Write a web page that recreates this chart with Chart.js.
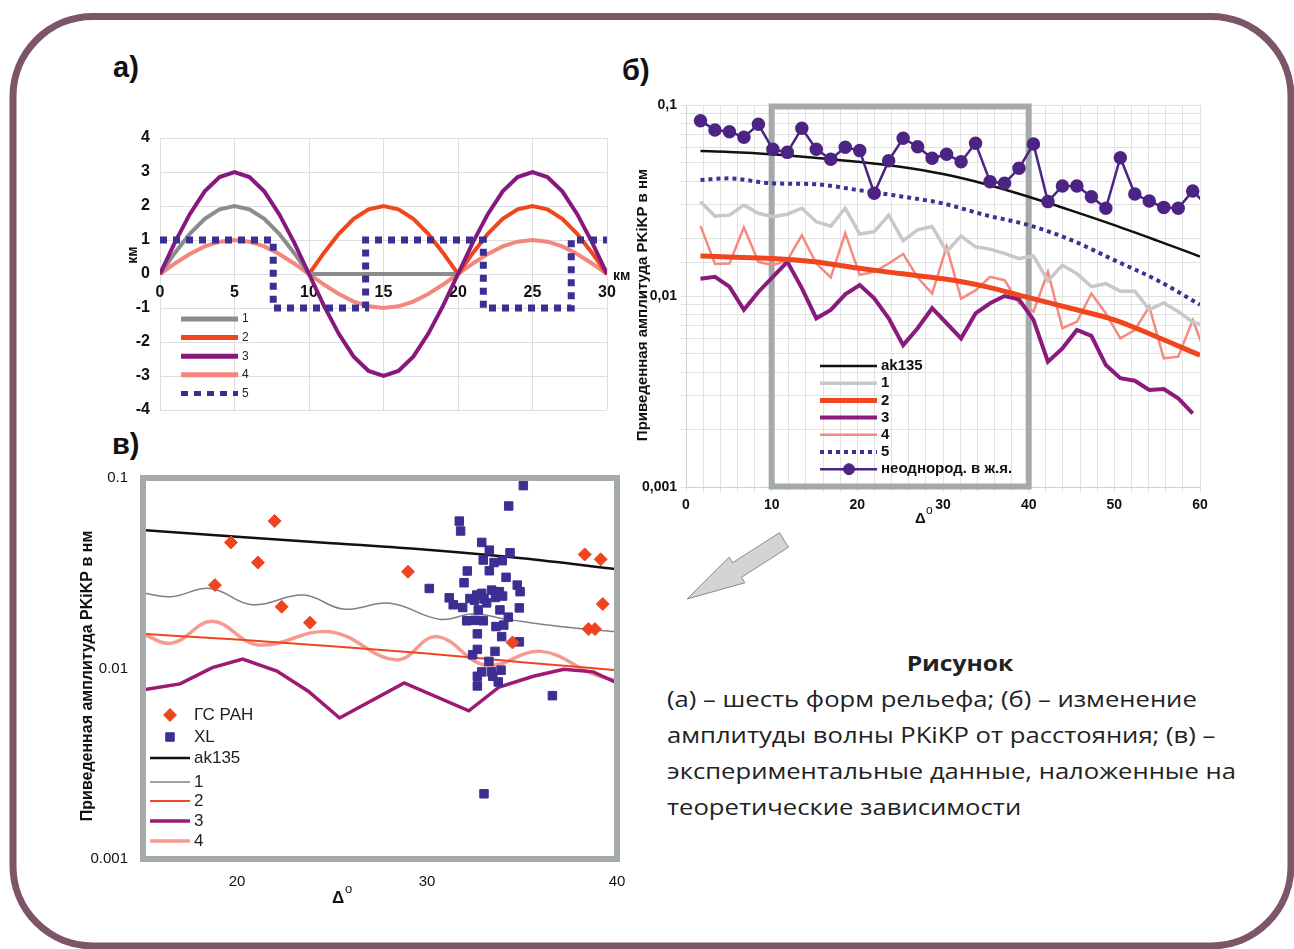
<!DOCTYPE html>
<html lang="ru">
<head>
  <meta charset="UTF-8">
  <title>Рисунок: формы рельефа и амплитуды PKiKP</title>
  <script src="https://cdn.jsdelivr.net/npm/chart.js"></script>
  <style>
    html, body { margin: 0; padding: 0; background: #fff; }
    body {
      width: 1294px; height: 949px; position: relative; overflow: hidden;
      font-family: "Liberation Sans", Arial, sans-serif;
    }
    .frame { position: absolute; left: 0; top: 0; }
    canvas { position: absolute; }
    .lbl { position: absolute; font-weight: bold; font-size: 29px; line-height: 29px; color: #111; }
    .head {
      position: absolute; left: 860px; width: 200px; top: 650px; text-align: center;
      font-family: "Open Sans", sans-serif; font-weight: bold; font-size: 22px; line-height: 24px; color: #222;
      transform: scaleX(1.12); transform-origin: 100px 0;
    }
    .caption {
      position: absolute; left: 667px; top: 680px; white-space: nowrap;
      font-family: "Open Sans", sans-serif; font-size: 22px; line-height: 36px; color: #222;
      transform: scaleX(1.165); transform-origin: 0 0;
    }
  </style>
</head>
<body>
  <svg class="frame" width="1294" height="949">
    <rect x="13" y="16.5" width="1278" height="929.5" rx="80" ry="80" fill="none" stroke="#7d5569" stroke-width="7"/>
    <polygon points="687,599 729.2,557.2 732.6,562.7 779.6,532.7 788.4,547.3 741.4,577.3 744.8,582.8"
             fill="#d4d4d4" stroke="#8a8a8a" stroke-width="1"/>
  </svg>

  <div class="lbl" style="left:113px; top:53px;">а)</div>
  <div class="lbl" style="left:622px; top:56px;">б)</div>
  <div class="lbl" style="left:112px; top:430px;">в)</div>

  <canvas id="chartA" width="530" height="310" style="left:100px; top:120px;"></canvas>
  <canvas id="chartB" width="600" height="450" style="left:630px; top:90px;"></canvas>
  <canvas id="chartV" width="560" height="460" style="left:70px; top:460px;"></canvas>

  <div class="head">Рисунок</div>
  <div class="caption">
    <div>(а) – шесть форм рельефа; (б) – изменение</div>
    <div>амплитуды волны PKiKP от расстояния; (в) –</div>
    <div>экспериментальные данные, наложенные на</div>
    <div>теоретические зависимости</div>
  </div>

  <script>
    // ---------- а) формы рельефа, км ----------
    const kmX = [0,1,2,3,4,5,6,7,8,9,10,11,12,13,14,15,16,17,18,19,20,21,22,23,24,25,26,27,28,29,30];
    const relief1 = [0,0.62,1.18,1.62,1.9,2,1.9,1.62,1.18,0.62,0, 0,0,0,0,0,0,0,0,0,0,
                     null,null,null,null,null,null,null,null,null,null];
    const relief2 = [null,null,null,null,null,null,null,null,null,null,
                     0,0.62,1.18,1.62,1.9,2,1.9,1.62,1.18,0.62,0,0.62,1.18,1.62,1.9,2,1.9,1.62,1.18,0.62,0];
    const relief3 = [0,0.93,1.76,2.43,2.85,3,2.85,2.43,1.76,0.93,0,-0.93,-1.76,-2.43,-2.85,-3,-2.85,-2.43,-1.76,-0.93,
                     0,0.93,1.76,2.43,2.85,3,2.85,2.43,1.76,0.93,0];
    const relief4 = [0,0.31,0.59,0.81,0.95,1,0.95,0.81,0.59,0.31,0,-0.31,-0.59,-0.81,-0.95,-1,-0.95,-0.81,-0.59,-0.31,
                     0,0.31,0.59,0.81,0.95,1,0.95,0.81,0.59,0.31,0];
    const relief5X = [0,7.6,7.6,13.8,13.8,21.7,21.7,27.6,27.6,30];
    const relief5Y = [1,1,-1,-1,1,1,-1,-1,1,1];
    const reliefLabels = ['1','2','3','4','5'];

    // ---------- б) амплитуда PKiKP от расстояния ----------
    const distB = [1.69,3.38,5.07,6.76,8.45,10.14,11.83,13.52,15.21,16.9,18.59,20.28,21.97,23.66,25.35,27.04,
                   28.73,30.42,32.11,33.8,35.49,37.18,38.87,40.56,42.25,43.94,45.63,47.32,49.01,50.7,52.39,54.08,
                   55.77,57.46,59.15,60.84];
    const inhomB = [0.0828,0.074,0.0725,0.0678,0.0792,0.0586,0.0565,0.0755,0.0586,0.052,0.0601,0.0577,0.0345,0.0511,
                    0.067,0.0605,0.0526,0.0552,0.0505,0.063,0.0397,0.0389,0.0466,0.0625,0.0312,0.0377,0.0377,0.0331,
                    0.0288,0.053,0.0342,0.0314,0.0291,0.0288,0.0355,0.0297];
    const model1B = [0.0312,0.0262,0.0265,0.0299,0.0271,0.026,0.0268,0.0288,0.0245,0.0232,0.0288,0.0211,0.0217,0.0265,
                     0.0195,0.0222,0.0231,0.0171,0.0206,0.0181,0.0176,0.0167,0.0157,0.0162,0.012,0.0145,0.0131,0.0112,
                     0.0116,0.0106,0.0106,0.0085,0.0092,0.0083,0.0073,0.0069];
    const model3B = [0.0123,0.0126,0.0112,0.00846,0.0105,0.0126,0.0151,0.011,0.00764,0.00846,0.0102,0.0114,0.00973,
                     0.00764,0.00553,0.00678,0.00863,0.0072,0.006,0.0081,0.00916,0.01,0.0096,0.0075,0.00453,0.00532,
                     0.00664,0.00618,0.00435,0.00371,0.0036,0.00322,0.00326,0.00291,0.00243,null];
    const model4B = [0.0233,0.0147,0.0148,0.0229,0.0151,0.0145,0.0154,0.0208,0.0148,0.0125,0.0213,0.0129,0.0134,0.0148,
                     0.0166,0.0125,0.0103,0.0181,0.0097,0.0107,0.0126,0.0121,0.00916,0.00828,0.0134,0.00678,0.00733,
                     0.0103,0.0081,0.006,0.00664,0.0088,0.00472,0.00481,0.00748,0.00474];
    const smoothXB = [1.69,5,10,15,20,25,30,35,40,45,50,55,60];
    const ak135B  = [0.0574,0.0568,0.0553,0.053,0.0505,0.0475,0.0435,0.0385,0.0331,0.028,0.0235,0.0195,0.0161];
    const model2B = [0.0162,0.016,0.0157,0.0151,0.014,0.0131,0.0123,0.0112,0.0098,0.0086,0.0075,0.0061,0.0049];
    const model5B = [0.0405,0.0413,0.0389,0.0385,0.0359,0.0333,0.0305,0.0265,0.0235,0.0196,0.0154,0.0121,0.009];
    const labelsB = ['ak135','1','2','3','4','5','неоднород. в ж.я.'];
    const frameRangeB = [10, 40];
    const yTickValsB = [0.1, 0.01, 0.001];
    const yTickTextB = ['0,1', '0,01', '0,001'];

    // ---------- в) экспериментальные данные ----------
    const gsX = [18.84,19.68,21.1,21.98,22.35,23.84,29.0,34.5,38.3,39.14,39.25,38.5,38.84];
    const gsY = [0.0274,0.0459,0.036,0.0594,0.0211,0.0174,0.0322,0.0137,0.0397,0.0374,0.0218,0.0161,0.0161];
    const xlX = [35.07,34.3,31.7,31.77,32.88,33.28,32.96,34.37,33.53,33.96,33.28,32.12,30.12,31.95,34.16,34.75,34.9,
                 31.17,31.38,31.88,32.26,32.62,32.88,33.14,33.4,33.81,33.98,32.7,33.84,34.86,32.09,32.53,32.96,34.28,
                 33.63,34.04,32.65,33.93,34.86,32.65,33.58,32.4,33.26,32.88,33.4,33.9,32.65,33.46,33.75,32.65,36.6,33.0,
                 32.5,33.0,33.6];
    const xlY = [0.0912,0.0713,0.0594,0.0527,0.0459,0.0418,0.0371,0.0405,0.036,0.0368,0.0326,0.0325,0.0263,0.0282,0.0301,
                 0.0274,0.0253,0.0235,0.0216,0.0209,0.0233,0.0243,0.0248,0.0221,0.0258,0.0253,0.024,0.0203,0.0203,0.0208,
                 0.0178,0.0179,0.0178,0.0186,0.0166,0.0169,0.0152,0.0147,0.0138,0.0126,0.0123,0.0118,0.0109,0.0096,0.0096,
                 0.0098,0.0091,0.0091,0.0085,0.0081,0.0072,0.0022,0.0228,0.0232,0.0236];
    const akVX = [15,20,25,30,35,40];
    const akVY = [0.0533,0.0492,0.0455,0.042,0.0379,0.0332];
    const m1VX = [15,16.5,18.6,20.8,23.5,25.6,28.05,30.7,32.4,34.4,37,40];
    const m1VY = [0.025,0.0238,0.0263,0.0216,0.0243,0.0205,0.022,0.0181,0.0193,0.018,0.0166,0.0156];
    const m2VX = [15,20,25,30,35,40];
    const m2VY = [0.0152,0.0142,0.0131,0.012,0.0108,0.0098];
    const m3VX = [15,17,18.7,20.3,22.1,23.75,25.4,28.8,32.2,33.8,35.6,37.2,38.75,40];
    const m3VY = [0.0077,0.0083,0.0101,0.0112,0.0097,0.0076,0.0055,0.0084,0.006,0.008,0.0091,0.0099,0.0096,0.0084];
    const m4VX = [15,16.6,18.7,21.1,24.9,28.4,30.5,33.1,36,38.7,40];
    const m4VY = [0.0152,0.0136,0.0177,0.0133,0.0156,0.0111,0.0147,0.0104,0.0123,0.0094,0.0086];
    const labelsV = ['ГС РАН','XL','ak135','1','2','3','4'];
    const xTickValsV = [20, 30, 40];
    const yTickValsV = [0.1, 0.01, 0.001];
    const yTickTextV = ['0.1', '0.01', '0.001'];

    Chart.defaults.font.family = '"Liberation Sans", Arial, sans-serif';
    Chart.defaults.color = '#111';

    function pts(xs, ys) {
      return xs.map((x, i) => ({ x: x, y: ys[i] })).filter(p => p.y !== null);
    }

    // fixed axis sizes so the plot areas land where the reference has them
    function fixFit(size) {
      return function (s) {
        if (s.isHorizontal()) s.height = size; else s.width = size;
        s.paddingTop = s.paddingBottom = s.paddingLeft = s.paddingRight = 0;
      };
    }

    function text(ctx, str, x, y, font, opts) {
      opts = opts || {};
      ctx.save();
      ctx.font = font;
      ctx.fillStyle = opts.color || '#111';
      ctx.textAlign = opts.align || 'left';
      ctx.textBaseline = 'middle';
      ctx.translate(x, y);
      if (opts.rot) ctx.rotate(opts.rot);
      ctx.fillText(str, 0, 0);
      ctx.restore();
    }

    // legend drawn inside the plot, styles taken from the datasets
    function drawLegend(chart, cfg) {
      const ctx = chart.ctx, a = chart.chartArea;
      cfg.items.forEach((dsIndex, i) => {
        const ds = chart.data.datasets[dsIndex];
        const y = a.top + cfg.rows[i];
        ctx.save();
        if (ds.showLine !== false) {
          ctx.strokeStyle = ds.borderColor;
          ctx.lineWidth = cfg.lineWidth || ds.borderWidth;
          ctx.setLineDash(ds.borderDash || []);
          ctx.lineCap = 'butt';
          ctx.beginPath();
          ctx.moveTo(a.left + cfg.x0, y);
          ctx.lineTo(a.left + cfg.x1, y);
          ctx.stroke();
        }
        if (ds.pointRadius > 0 || ds.showLine === false) {
          ctx.setLineDash([]);
          ctx.fillStyle = ds.pointBackgroundColor;
          ctx.strokeStyle = ds.pointBorderColor || ds.pointBackgroundColor;
          ctx.lineWidth = 1;
          Chart.helpers.drawPoint(ctx, {
            pointStyle: ds.pointStyle || 'circle', radius: ds.pointRadius, borderWidth: 1, rotation: 0
          }, a.left + (cfg.marker != null ? cfg.marker : (cfg.x0 + cfg.x1) / 2), y);
        }
        ctx.restore();
        text(ctx, cfg.labels[i], a.left + cfg.tx, y, cfg.font, { color: cfg.color });
      });
    }

    // ================= а) =================
    const decorA = {
      id: 'decorA',
      afterDraw(chart) {
        const ctx = chart.ctx, a = chart.chartArea;
        const y0 = chart.scales.y.getPixelForValue(0);
        text(ctx, 'км', a.left - 27, a.top + 117, 'bold 14px "Liberation Sans"', { rot: -Math.PI / 2, align: 'center' });
        text(ctx, 'км', a.right + 6, y0 + 2, 'bold 14px "Liberation Sans"');
        drawLegend(chart, {
          items: [0, 1, 2, 3, 4], labels: reliefLabels,
          rows: [181, 199.6, 218.2, 236.8, 255.4], x0: 21, x1: 78, tx: 82, lineWidth: 5,
          font: '12px "Liberation Sans"', color: '#222'
        });
      }
    };

    new Chart(document.getElementById('chartA'), {
      type: 'line',
      data: {
        datasets: [
          { label: '1', data: pts(kmX, relief1), borderColor: '#8c8c8c', borderWidth: 4, pointRadius: 0, order: 2 },
          { label: '2', data: pts(kmX, relief2), borderColor: '#f0461e', borderWidth: 4, pointRadius: 0, order: 3 },
          { label: '3', data: pts(kmX, relief3), borderColor: '#86197d', borderWidth: 4, pointRadius: 0, order: 1 },
          { label: '4', data: pts(kmX, relief4), borderColor: '#f4877b', borderWidth: 4, pointRadius: 0, order: 4 },
          { label: '5', data: pts(relief5X, relief5Y), borderColor: '#3a2f92', borderWidth: 7,
            borderDash: [7, 6], borderCapStyle: 'butt', pointRadius: 0, order: 0 }
        ]
      },
      options: {
        responsive: false, animation: false, events: [],
        layout: { padding: { left: 0, top: 18, right: 23, bottom: 20 } },
        plugins: { legend: { display: false }, tooltip: { enabled: false } },
        scales: {
          x: {
            type: 'linear', min: 0, max: 30, position: { y: 0 },
            ticks: { stepSize: 5, padding: 9, color: '#111', font: { size: 16, weight: 'bold' } },
            grid: { color: '#dedede', drawTicks: false },
            border: { display: false },
            afterFit: fixFit(30)
          },
          y: {
            min: -4, max: 4,
            ticks: { stepSize: 1, padding: 10, color: '#111', font: { size: 16, weight: 'bold' } },
            grid: { color: '#dedede', drawTicks: false },
            border: { display: false },
            afterFit: fixFit(60)
          }
        }
      },
      plugins: [decorA]
    });

    // ================= б) =================
    const decorB = {
      id: 'decorB',
      beforeDatasetsDraw(chart) {
        const ctx = chart.ctx, x = chart.scales.x, y = chart.scales.y;
        const x0 = x.getPixelForValue(frameRangeB[0]), x1 = x.getPixelForValue(frameRangeB[1]);
        const y0 = y.getPixelForValue(0.1) + 1.5, y1 = y.getPixelForValue(0.001) - 0.5;
        ctx.save();
        ctx.strokeStyle = '#a4a9a9';
        ctx.lineWidth = 6;
        ctx.strokeRect(x0, y0, x1 - x0, y1 - y0);
        ctx.restore();
      },
      afterDraw(chart) {
        const ctx = chart.ctx, a = chart.chartArea;
        text(ctx, 'Приведенная амплитуда PKiKP в нм', a.left - 43, a.top + 200,
             'bold 15px "Liberation Sans"', { rot: -Math.PI / 2, align: 'center' });
        text(ctx, 'Δ', a.left + 229, a.bottom + 32, 'bold 15px "Liberation Sans"');
        text(ctx, 'o', a.left + 240, a.bottom + 24, '12px "Liberation Sans"');
        drawLegend(chart, {
          items: [1, 2, 3, 4, 5, 6, 0], labels: labelsB,
          rows: [261, 278.2, 295.4, 312.6, 329.8, 347, 364.2], x0: 134, x1: 191, tx: 195, marker: 163,
          font: 'bold 15px "Liberation Sans"', color: '#111'
        });
      }
    };

    new Chart(document.getElementById('chartB'), {
      type: 'line',
      data: {
        datasets: [
          { label: labelsB[6], data: pts(distB, inhomB), borderColor: '#4c2483', borderWidth: 2.5,
            pointRadius: 5.5, pointBackgroundColor: '#4c2483', pointBorderColor: '#4c2483', order: 0 },
          { label: labelsB[0], data: pts(smoothXB, ak135B), borderColor: '#111111', borderWidth: 2.5,
            pointRadius: 0, cubicInterpolationMode: 'monotone', order: 1 },
          { label: labelsB[1], data: pts(distB, model1B), borderColor: '#c8c8c8', borderWidth: 3.5,
            pointRadius: 0, order: 5 },
          { label: labelsB[2], data: pts(smoothXB, model2B), borderColor: '#f0461e', borderWidth: 5,
            pointRadius: 0, cubicInterpolationMode: 'monotone', order: 3 },
          { label: labelsB[3], data: pts(distB, model3B), borderColor: '#8a1a7c', borderWidth: 4,
            pointRadius: 0, order: 4 },
          { label: labelsB[4], data: pts(distB, model4B), borderColor: '#f58a80', borderWidth: 2.5,
            pointRadius: 0, order: 6 },
          { label: labelsB[5], data: pts(smoothXB, model5B), borderColor: '#3a3294', borderWidth: 4,
            borderDash: [4, 4], pointRadius: 0, cubicInterpolationMode: 'monotone', order: 2 }
        ]
      },
      options: {
        responsive: false, animation: false, events: [],
        layout: { padding: { left: 0, top: 15, right: 30, bottom: 0 } },
        plugins: { legend: { display: false }, tooltip: { enabled: false } },
        scales: {
          x: {
            type: 'linear', min: 0, max: 60,
            ticks: {
              stepSize: 2, autoSkip: false, maxRotation: 0, padding: 5, color: '#111',
              font: { size: 14, weight: 'bold' },
              callback: v => (v % 10 === 0 ? String(v) : '')
            },
            grid: { color: '#e1e1e1', tickLength: 5 },
            border: { color: '#d0d0d0' },
            afterFit: fixFit(53)
          },
          y: {
            type: 'logarithmic', min: 0.001, max: 0.1,
            ticks: {
              autoSkip: false, padding: 4, color: '#111', font: { size: 14, weight: 'bold' },
              callback: function (v) {
                const i = yTickValsB.findIndex(t => Math.abs(t - v) < 1e-9);
                return i >= 0 ? yTickTextB[i] : '';
              }
            },
            grid: { color: '#e1e1e1', tickLength: 5 },
            border: { color: '#d0d0d0' },
            afterFit: fixFit(56)
          }
        }
      },
      plugins: [decorB]
    });

    // ================= в) =================
    const decorV = {
      id: 'decorV',
      afterDatasetsDraw(chart) {
        const ctx = chart.ctx, a = chart.chartArea;
        ctx.save();
        ctx.strokeStyle = '#a5aaaa';
        ctx.lineWidth = 6;
        ctx.strokeRect(a.left + 1, a.top, a.right - a.left - 1, a.bottom - a.top);
        ctx.restore();
        text(ctx, 'Приведенная амплитуда PKiKP в нм', a.left - 54, a.top + 198,
             'bold 16px "Liberation Sans"', { rot: -Math.PI / 2, align: 'center' });
        text(ctx, 'Δ', a.left + 190, a.bottom + 39, 'bold 17px "Liberation Sans"');
        text(ctx, 'o', a.left + 203, a.bottom + 30, '13px "Liberation Sans"');
        drawLegend(chart, {
          items: [0, 1, 2, 3, 4, 5, 6], labels: labelsV,
          rows: [237, 259, 280, 304, 323, 343, 363], x0: 8, x1: 48, tx: 52, marker: 28,
          font: '17px "Liberation Sans"', color: '#222'
        });
      }
    };

    new Chart(document.getElementById('chartV'), {
      type: 'line',
      data: {
        datasets: [
          { label: labelsV[0], data: pts(gsX, gsY), showLine: false, pointStyle: 'rectRot', pointRadius: 6.5,
            pointBackgroundColor: '#ee4520', pointBorderColor: '#ee4520', order: 0 },
          { label: labelsV[1], data: pts(xlX, xlY), showLine: false, pointStyle: 'rect', pointRadius: 6,
            pointBackgroundColor: '#3c2f93', pointBorderColor: '#3c2f93', order: 0 },
          { label: labelsV[2], data: pts(akVX, akVY), borderColor: '#111111', borderWidth: 2.5, pointRadius: 0,
            cubicInterpolationMode: 'monotone', order: 2 },
          { label: labelsV[3], data: pts(m1VX, m1VY), borderColor: '#808080', borderWidth: 1.5, pointRadius: 0,
            tension: 0.4, order: 3 },
          { label: labelsV[4], data: pts(m2VX, m2VY), borderColor: '#f0461e', borderWidth: 2, pointRadius: 0,
            cubicInterpolationMode: 'monotone', order: 4 },
          { label: labelsV[5], data: pts(m3VX, m3VY), borderColor: '#9c1a72', borderWidth: 3.5, pointRadius: 0,
            order: 5 },
          { label: labelsV[6], data: pts(m4VX, m4VY), borderColor: '#f59b94', borderWidth: 3.5, pointRadius: 0,
            tension: 0.4, order: 6 }
        ]
      },
      options: {
        responsive: false, animation: false, events: [],
        layout: { padding: { left: 0, top: 18, right: 13, bottom: 0 } },
        plugins: { legend: { display: false }, tooltip: { enabled: false } },
        scales: {
          x: {
            type: 'linear', min: 15, max: 40,
            afterBuildTicks: s => { s.ticks = xTickValsV.map(v => ({ value: v })); },
            ticks: { maxRotation: 0, padding: 14, color: '#111', font: { size: 15 } },
            grid: { display: false, drawTicks: false },
            border: { display: false },
            afterFit: fixFit(61)
          },
          y: {
            type: 'logarithmic', min: 0.001, max: 0.1,
            afterBuildTicks: s => { s.ticks = yTickValsV.map(v => ({ value: v })); },
            ticks: {
              padding: 14, color: '#111', font: { size: 15 },
              callback: function (v) {
                const i = yTickValsV.findIndex(t => Math.abs(t - v) < 1e-9);
                return i >= 0 ? yTickTextV[i] : '';
              }
            },
            grid: { display: false, drawTicks: false },
            border: { display: false },
            afterFit: fixFit(72)
          }
        }
      },
      plugins: [decorV]
    });
  </script>
</body>
</html>
